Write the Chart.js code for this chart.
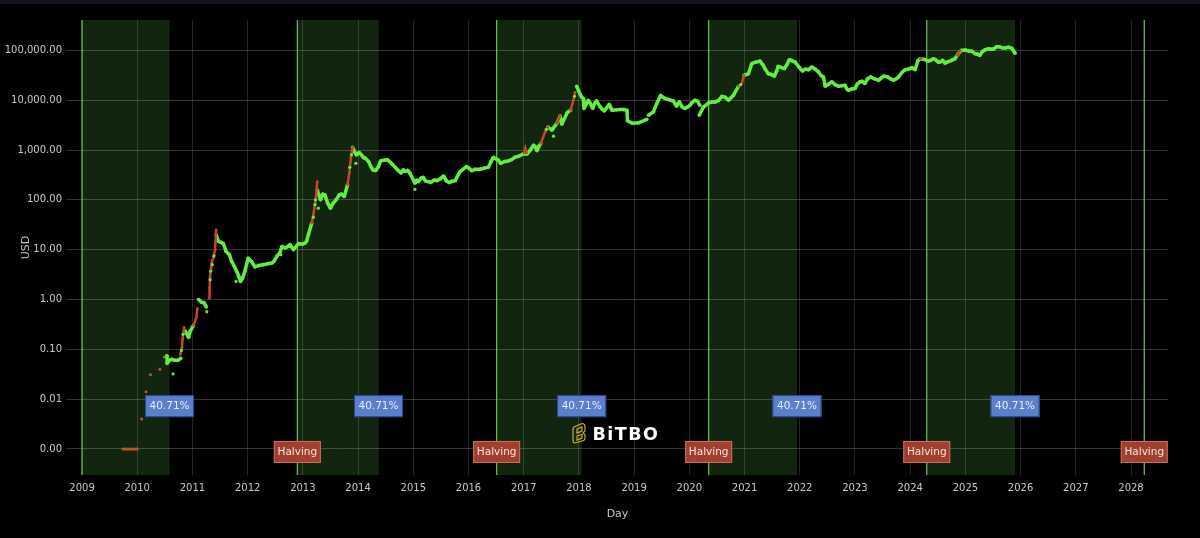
<!DOCTYPE html>
<html lang="en">

<head>
    <meta charset="UTF-8">
    <title>Bitcoin Price Halving Cycles</title>
    <style>
        body {
            margin: 0;
            padding: 0;
            background-color: #000;
            overflow: hidden;
        }
        .top-strip {
            position: absolute;
            top: 0;
            left: 0;
            width: 1200px;
            height: 4px;
            background-color: #11151f;
        }
    </style>
</head>

<body>
    <div class="top-strip"></div>
    <canvas id="priceChart" width="1200" height="538"></canvas>

    <script src="https://cdn.jsdelivr.net/npm/chart.js"></script>
<script>
    // Axis ticks
    const yearTicks = [2009, 2010, 2011, 2012, 2013, 2014, 2015, 2016, 2017, 2018, 2019, 2020, 2021, 2022, 2023, 2024, 2025, 2026, 2027, 2028];
    const priceTicks = [0.001, 0.01, 0.1, 1, 10, 100, 1000, 10000, 100000];
    const priceTickLabels = ['0.00', '0.01', '0.10', '1.00', '10.00', '100.00', '1,000.00', '10,000.00', '100,000.00'];

    // Halvings and the end of each shaded period
    const halvingYears = [2012.90, 2016.51, 2020.35, 2024.30, 2028.24];
    const bandStarts = [2009.0, 2012.90, 2016.51, 2020.35, 2024.30];
    const bandEnds = [2010.585, 2014.37, 2018.05, 2021.95, 2025.90];
    const bandLabels = ['40.71%', '40.71%', '40.71%', '40.71%', '40.71%'];

    // Main trace, null breaks the line
    const greenYears = [
        2010.54, 2010.54, 2010.58, 2010.63, 2010.68, 2010.74, 2010.79, null,
        2010.87, 2010.93, 2010.96, 2011.02, null,
        2011.11, 2011.17, 2011.21, 2011.25, null,
        2011.43, 2011.47, 2011.52, 2011.56, 2011.61, 2011.67, 2011.71, 2011.76, 2011.80, 2011.84, 2011.87, 2011.91, 2011.95, 2012.01, 2012.04, 2012.07, 2012.13, 2012.20, 2012.28, 2012.36, 2012.44, 2012.48, 2012.53, 2012.58, 2012.62, 2012.68, 2012.72, 2012.77, 2012.83, 2012.92, 2013.00, 2013.04, 2013.07, 2013.10, 2013.16, null,
        2013.26, 2013.32, 2013.36, 2013.40, 2013.45, 2013.50, 2013.55, 2013.60, 2013.66, 2013.70, 2013.75, 2013.81, null,
        2013.90, 2013.94, 2013.97, 2014.02, 2014.07, 2014.10, 2014.13, 2014.19, 2014.23, 2014.27, 2014.32, 2014.37, 2014.41, 2014.49, 2014.53, 2014.57, 2014.62, 2014.68, 2014.73, 2014.78, 2014.82, 2014.85, 2014.90, 2014.94, 2015.03, 2015.06, 2015.09, 2015.14, 2015.18, 2015.22, 2015.27, 2015.32, 2015.38, 2015.43, 2015.48, 2015.55, 2015.60, 2015.65, 2015.70, 2015.76, 2015.80, 2015.85, 2015.96, 2016.01, 2016.06, 2016.12, 2016.21, 2016.28, 2016.36, 2016.41, 2016.45, 2016.50, 2016.54, 2016.58, 2016.66, 2016.72, 2016.78, 2016.84, 2016.92, 2016.99, 2017.06, 2017.12, 2017.18, 2017.21, 2017.24, 2017.28, 2017.31, null,
        2017.44, 2017.51, 2017.60, 2017.66, 2017.69, 2017.79, 2017.85, null,
        2017.96, 2018.02, 2018.05, 2018.08, 2018.09, 2018.13, 2018.17, 2018.21, 2018.25, 2018.29, 2018.32, 2018.38, 2018.42, 2018.46, 2018.50, 2018.55, 2018.58, 2018.60, 2018.68, 2018.75, 2018.81, 2018.87, 2018.88, 2018.97, 2019.08, 2019.23, null,
        2019.26, 2019.35, 2019.41, 2019.48, 2019.52, 2019.56, 2019.63, 2019.67, 2019.71, 2019.74, 2019.77, 2019.80, 2019.82, 2019.87, 2019.92, 2019.96, 2020.01, 2020.05, 2020.10, 2020.15, 2020.19, null,
        2020.18, 2020.25, 2020.35, 2020.41, 2020.47, 2020.53, 2020.59, 2020.65, 2020.71, 2020.76, 2020.80, 2020.89, null,
        2020.99, 2021.07, 2021.13, 2021.20, 2021.28, 2021.33, 2021.37, 2021.43, 2021.48, 2021.54, 2021.58, 2021.61, 2021.67, 2021.72, 2021.77, 2021.81, 2021.86, 2021.92, 2021.98, 2022.05, 2022.10, 2022.16, 2022.22, 2022.28, 2022.34, 2022.39, 2022.43, 2022.46, 2022.52, 2022.58, 2022.64, 2022.70, 2022.76, 2022.82, 2022.85, 2022.88, 2022.94, 2023.00, 2023.04, 2023.09, 2023.13, 2023.18, 2023.23, 2023.28, 2023.35, 2023.43, 2023.47, 2023.52, 2023.60, 2023.65, 2023.70, 2023.75, 2023.79, 2023.85, 2023.91, 2023.97, 2024.03, 2024.06, 2024.09, 2024.14, 2024.18, 2024.25, 2024.33, 2024.37, 2024.42, 2024.46, 2024.51, 2024.55, 2024.59, 2024.63, 2024.68, 2024.75, 2024.81, 2024.87, 2024.93, 2025.00, 2025.06, 2025.12, 2025.18, 2025.22, 2025.26, 2025.31, 2025.36, 2025.42, 2025.48, 2025.52, 2025.57, 2025.62, 2025.66, 2025.72, 2025.78, 2025.84, 2025.90
    ];
    const greenPrices = [
        0.074, 0.052, 0.06, 0.063, 0.06, 0.06, 0.066, null,
        0.232, 0.174, 0.232, 0.302, null,
        1.0, 0.87, 0.87, 0.71, null,
        19.9, 14.7, 14, 13.2, 9.2, 7.9, 5.8, 4.6, 3.7, 2.9, 2.3, 2.7, 3.7, 6.8, 6.2, 5.8, 4.5, 4.8, 5.0, 5.2, 5.4, 5.9, 7.4, 8.5, 11.6, 10.8, 11.5, 12.6, 10, 13.2, 13, 13.6, 15, 20, 34, null,
        158, 100, 130, 126, 85, 68, 86, 100, 126, 130, 117, 200, null,
        1130, 910, 794, 890, 780, 700, 687, 587, 470, 398, 390, 465, 610, 631, 640, 587, 520, 440, 385, 345, 400, 370, 390, 343, 215, 250, 232, 270, 284, 240, 232, 225, 250, 243, 260, 302, 240, 222, 235, 243, 300, 370, 465, 430, 385, 410, 411, 430, 450, 590, 714, 660, 631, 542, 590, 603, 640, 714, 760, 832, 832, 1000, 1260, 1150, 968, 1200, 1360, null,
        2900, 2510, 3430, 4790, 3310, 5670, 6310, null,
        19050, 13200, 11500, 10800, 6800, 8200, 10000, 8500, 6800, 8800, 9700, 7500, 6600, 6100, 7000, 8300, 7000, 6300, 6400, 6500, 6500, 6300, 3860, 3430, 3520, 4120, null,
        5000, 5840, 8600, 12600, 11500, 10800, 10300, 9900, 9700, 8500, 7600, 8800, 9250, 7300, 6800, 7200, 7900, 9000, 10000, 9500, 7900, null,
        5000, 7150, 8830, 9200, 9250, 9900, 11960, 11500, 10000, 11300, 12600, 19050, null,
        31600, 34000, 54000, 58000, 61000, 52000, 43000, 34000, 33000, 30200, 38000, 47900, 45000, 43000, 52000, 65000, 62000, 58000, 47000, 38500, 42000, 41000, 46500, 42000, 37000, 31000, 29300, 19050, 21000, 23300, 20500, 19050, 19500, 20000, 17000, 15800, 16800, 17100, 21000, 23300, 24000, 21600, 27000, 29300, 27000, 25100, 27500, 30600, 29000, 26500, 25100, 27000, 29300, 36000, 41000, 42000, 45000, 43000, 41000, 62000, 68000, 66000, 61000, 63000, 68000, 65000, 58000, 59000, 63000, 55500, 59000, 63000, 68000, 85500, 100000, 102000, 97000, 96000, 85500, 84000, 79000, 95000, 103000, 108000, 105000, 108000, 119000, 118000, 113000, 112000, 116000, 110000, 88000
    ];

    // Stray green dots off the main trace or sitting on the red runs
    const strayYears = [2010.65, 2011.79, 2011.26, 2013.28, 2013.96, 2015.03, 2017.54, 2012.60, 2010.83, 2010.80, 2011.32, 2011.33, 2011.36, 2011.39, 2013.22, 2013.19, 2013.23, 2013.85, 2013.88, 2017.41, 2017.92, 2020.93];
    const strayPrices = [0.032, 2.3, 0.57, 68, 540, 163, 1900, 7.9, 0.2, 0.095, 2.5, 3.7, 5, 7.5, 80, 45, 100, 450, 800, 2600, 12000, 20500];

    // Red runs on the steep rises
    const redYears = [
        2010.78, 2010.81, 2010.82, 2010.85, null,
        2011.02, 2011.07, 2011.09, null,
        2011.30, 2011.31, 2011.32, 2011.35, 2011.38, 2011.41, 2011.43, null,
        2013.16, 2013.20, 2013.24, 2013.26, null,
        2013.81, 2013.84, 2013.87, 2013.90, null,
        2017.01, 2017.03, 2017.05, null,
        2017.31, 2017.39, 2017.44, null,
        2017.60, 2017.66, null,
        2017.85, 2017.90, 2017.93, null,
        2020.89, 2020.95, 2020.99, null,
        2024.18, 2024.20, null,
        2024.85, 2024.87, 2024.91
    ];
    const redPrices = [
        0.079, 0.11, 0.158, 0.275, null,
        0.302, 0.43, 0.66, null,
        1.08, 1.71, 2.93, 5.5, 6.9, 10, 25, null,
        34, 58, 126, 232, null,
        200, 343, 687, 1130, null,
        870, 1070, 870, null,
        1360, 2340, 2900, null,
        3430, 4790, null,
        6310, 10000, 14450, null,
        19050, 21600, 31600, null,
        68000, 70000, null,
        80000, 85500, 98000
    ];

    // Earliest prices, loose orange dots
    const earlyYears = [2009.74, 2009.77, 2009.80, 2009.83, 2009.86, 2009.89, 2009.92, 2009.95, 2009.98, 2010.0, 2010.08, 2010.16, 2010.24, 2010.41, 2010.49, 2010.53];
    const earlyPrices = [0.001, 0.001, 0.001, 0.001, 0.001, 0.001, 0.001, 0.001, 0.001, 0.001, 0.004, 0.014, 0.031, 0.04, 0.07, 0.076];

    const tickFont = { family: '"DejaVu Sans"', size: 10 };
    const titleFont = { family: '"DejaVu Sans"', size: 11 };

    function toPoints(years, prices) {
        return years.map((year, i) => ({ x: year, y: prices[i] }));
    }

    function drawBox(ctx, centerX, centerY, text, fill, border, color) {
        const w = centerX.w, h = 22;
        const x = centerX.x - w / 2, y = centerY - h / 2;
        ctx.fillStyle = fill;
        ctx.fillRect(x, y, w, h);
        ctx.strokeStyle = border;
        ctx.lineWidth = 1;
        ctx.strokeRect(x + 0.5, y + 0.5, w - 1, h - 1);
        ctx.fillStyle = color;
        ctx.font = '10.5px "DejaVu Sans"';
        ctx.textAlign = 'center';
        ctx.textBaseline = 'middle';
        ctx.fillText(text, centerX.x, centerY + 0.5);
    }

    function drawLogo(ctx) {
        // gold mark
        ctx.save();
        ctx.strokeStyle = '#c9a93a';
        ctx.lineWidth = 1.2;
        ctx.beginPath();
        ctx.moveTo(574, 427);
        ctx.lineTo(582, 423.5);
        ctx.quadraticCurveTo(585, 423.5, 585, 427);
        ctx.lineTo(585, 431);
        ctx.lineTo(583, 433);
        ctx.lineTo(585, 435);
        ctx.lineTo(585, 439);
        ctx.quadraticCurveTo(584, 441, 582, 441);
        ctx.lineTo(575, 443);
        ctx.quadraticCurveTo(573, 443, 573, 440);
        ctx.lineTo(573, 429);
        ctx.closePath();
        ctx.moveTo(577, 429);
        ctx.lineTo(582, 427);
        ctx.lineTo(582, 431);
        ctx.lineTo(577, 433);
        ctx.closePath();
        ctx.moveTo(577, 436);
        ctx.lineTo(582, 434.5);
        ctx.lineTo(582, 438);
        ctx.lineTo(577, 440);
        ctx.closePath();
        ctx.stroke();
        // word mark
        ctx.fillStyle = '#ffffff';
        ctx.font = 'bold 17.5px "DejaVu Sans"';
        ctx.letterSpacing = '1.5px';
        ctx.textAlign = 'left';
        ctx.textBaseline = 'alphabetic';
        ctx.fillText('BiTBO', 592.5, 440);
        ctx.restore();
    }

    // Shaded periods, halving lines and the boxed labels
    const halvingPlugin = {
        id: 'halvingPlugin',
        beforeDraw(chart) {
            const { ctx, chartArea, scales } = chart;
            ctx.save();
            ctx.fillStyle = '#12260f';
            bandStarts.forEach((start, i) => {
                const x0 = scales.x.getPixelForValue(start);
                const x1 = scales.x.getPixelForValue(bandEnds[i]);
                ctx.fillRect(x0, chartArea.top, x1 - x0, chartArea.bottom - chartArea.top);
            });
            ctx.restore();
        },
        beforeDatasetsDraw(chart) {
            const { ctx, chartArea, scales } = chart;
            ctx.save();
            ctx.strokeStyle = '#6cc25a';
            ctx.lineWidth = 1.2;
            [2009.0].concat(halvingYears).forEach(year => {
                const x = scales.x.getPixelForValue(year);
                ctx.beginPath();
                ctx.moveTo(x, chartArea.top);
                ctx.lineTo(x, chartArea.bottom);
                ctx.stroke();
            });
            ctx.restore();
        },
        afterDatasetsDraw(chart) {
            const { ctx, scales } = chart;
            ctx.save();
            const blueY = scales.y.getPixelForValue(0.00724);
            bandEnds.forEach((year, i) => {
                drawBox(ctx, { x: scales.x.getPixelForValue(year), w: 49 }, blueY, bandLabels[i], '#5b7fcc', '#2c4594', '#e4eaf8');
            });
            const redY = scales.y.getPixelForValue(0.00087);
            halvingYears.forEach(year => {
                drawBox(ctx, { x: scales.x.getPixelForValue(year), w: 47 }, redY, 'Halving', '#a33f2f', '#c4705e', '#f0e2de');
            });
            drawLogo(ctx);
            ctx.restore();
        }
    };

    new Chart(document.getElementById('priceChart').getContext('2d'), {
        type: 'scatter',
        data: {
            datasets: [
                {
                    label: 'Stray',
                    data: toPoints(strayYears, strayPrices),
                    backgroundColor: '#62ee3e',
                    pointRadius: 1.6,
                    pointBorderWidth: 0,
                    showLine: false,
                    order: 0
                },
                {
                    label: 'High',
                    data: toPoints(redYears, redPrices),
                    borderColor: '#c8452a',
                    backgroundColor: '#c8452a',
                    borderWidth: 2.5,
                    pointRadius: 1.3,
                    pointBorderWidth: 0,
                    showLine: true,
                    spanGaps: false,
                    order: 1
                },
                {
                    label: 'Price',
                    data: toPoints(greenYears, greenPrices),
                    borderColor: '#62ee3e',
                    backgroundColor: '#62ee3e',
                    borderWidth: 3.5,
                    borderJoinStyle: 'bevel',
                    pointRadius: 1.8,
                    pointBorderWidth: 0,
                    showLine: true,
                    spanGaps: false,
                    order: 2
                },
                {
                    label: 'Early',
                    data: toPoints(earlyYears, earlyPrices),
                    backgroundColor: '#b8572f',
                    pointRadius: 1.5,
                    pointBorderWidth: 0,
                    showLine: false,
                    order: 3
                }
            ]
        },
        options: {
            responsive: false,
            animation: false,
            layout: { padding: { top: 20, right: 32, left: 0, bottom: 0 } },
            plugins: {
                legend: { display: false },
                tooltip: { enabled: false }
            },
            scales: {
                x: {
                    type: 'linear',
                    min: 2008.728,
                    max: 2028.67,
                    afterBuildTicks: scale => { scale.ticks = yearTicks.map(value => ({ value })); },
                    afterFit: scale => { scale.height = 63; },
                    grid: { color: 'rgba(255,255,255,0.14)', lineWidth: 1, drawTicks: false },
                    border: { display: false },
                    ticks: {
                        color: '#c8c8c8',
                        font: tickFont,
                        padding: 7,
                        autoSkip: false,
                        maxRotation: 0,
                        callback: value => String(value)
                    },
                    title: {
                        display: true,
                        text: 'Day',
                        color: '#c8c8c8',
                        font: titleFont,
                        padding: { top: 0, bottom: 17 }
                    }
                },
                y: {
                    type: 'logarithmic',
                    min: Math.pow(10, -3.49),
                    max: Math.pow(10, 5.61),
                    afterBuildTicks: scale => { scale.ticks = priceTicks.map(value => ({ value })); },
                    afterFit: scale => { scale.width = 67; },
                    grid: { color: 'rgba(255,255,255,0.2)', lineWidth: 1, drawTicks: false },
                    border: { display: false },
                    ticks: {
                        color: '#c8c8c8',
                        font: tickFont,
                        padding: 5,
                        autoSkip: false,
                        callback: (value, i) => priceTickLabels[i]
                    },
                    title: {
                        display: true,
                        text: 'USD',
                        color: '#c8c8c8',
                        font: titleFont,
                        padding: { top: 20, bottom: 0 }
                    }
                }
            }
        },
        plugins: [halvingPlugin]
    });
</script>
</body>

</html>
